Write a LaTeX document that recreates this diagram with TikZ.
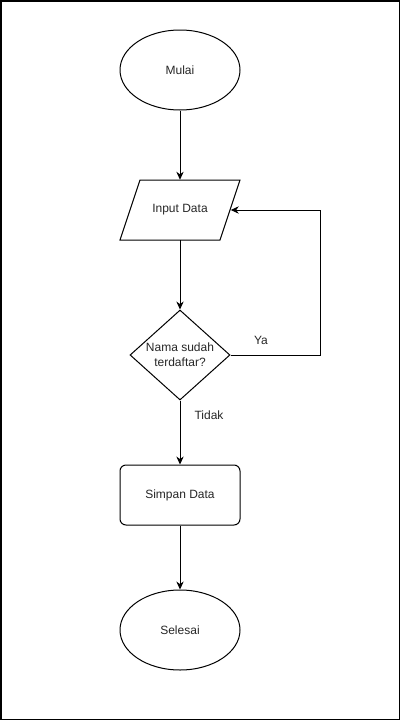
\documentclass[tikz,border=0pt]{standalone}
\usepackage{fontspec}
\setmainfont{Liberation Sans}
\usetikzlibrary{shapes.geometric,arrows.meta}
\begin{document}
\begin{tikzpicture}[x=0.75pt,y=-0.75pt,
  every node/.style={font=\fontsize{9}{11}\selectfont, text=black!85},
  base/.style={draw=black, line width=0.75pt, inner sep=0pt},
  term/.style={base, ellipse, minimum width=90pt, minimum height=60pt},
  iobox/.style={inner sep=0pt, minimum width=75.75pt, minimum height=45pt},
  proc/.style={base, rectangle, rounded corners=4.5pt, minimum width=90pt, minimum height=45pt},
  dec/.style={base, diamond, minimum width=75pt, minimum height=67.5pt, aspect=1.11, align=center},
  conn/.style={draw=black, line width=0.75pt, -{Stealth[length=6pt,width=5.5pt]}},
  lbl/.style={font=\fontsize{9}{11}\selectfont}
]
\useasboundingbox (0,0) rectangle (401,721);
\draw[line width=1.2pt] (1,1) rectangle (399.5,719.5);
\node[term] (mulai) at (180,70) {Mulai};
\node[iobox] (input) at (180,210) {Input Data};
\draw[line width=0.75pt, line join=miter] (140,180) -- (240,180) -- (220,240) -- (120,240) -- cycle;
\node[dec] (cek) at (180,355) {Nama sudah\\terdaftar?};
\node[proc] (simpan) at (180,495) {Simpan Data};
\node[term] (selesai) at (180,630) {Selesai};
\coordinate (c1) at (320,355);
\coordinate (c2) at (320,210);
\draw[conn] (mulai) -- (input);
\draw[conn] (input) -- (cek);
\draw[conn] (cek.east) -- (c1) -- (c2) -- (input.east);
\draw[conn] (cek) -- (simpan);
\draw[conn] (simpan) -- (selesai);
\node[lbl] (ya) at (261,340) {Ya};
\node[lbl] (tidak) at (209,415) {Tidak};
\end{tikzpicture}
\end{document}
